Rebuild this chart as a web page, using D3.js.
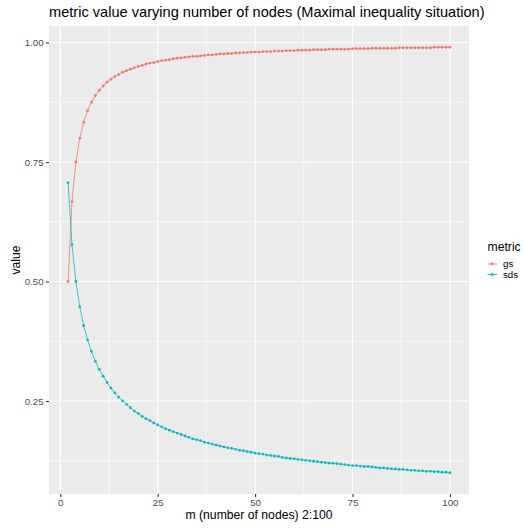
<!DOCTYPE html>
<html><head><meta charset="utf-8">
<script src="https://cdn.jsdelivr.net/npm/d3@7"></script>
<style>body{margin:0;background:#fff}svg{display:block;font-family:"Liberation Sans",Arial,sans-serif}</style>
</head><body><svg id="c" width="524" height="528"></svg>
<script>
const nodes = [2,3,4,5,6,7,8,9,10,11,12,13,14,15,16,17,18,19,20,21,22,23,24,25,26,27,28,29,30,31,32,33,34,35,36,37,38,39,40,41,42,43,44,45,46,47,48,49,50,51,52,53,54,55,56,57,58,59,60,61,62,63,64,65,66,67,68,69,70,71,72,73,74,75,76,77,78,79,80,81,82,83,84,85,86,87,88,89,90,91,92,93,94,95,96,97,98,99,100];
const gs = [0.500,0.667,0.750,0.800,0.833,0.857,0.875,0.889,0.900,0.909,0.917,0.923,0.929,0.933,0.938,0.941,0.944,0.947,0.950,0.952,0.955,0.957,0.958,0.960,0.962,0.963,0.964,0.966,0.967,0.968,0.969,0.970,0.971,0.971,0.972,0.973,0.974,0.974,0.975,0.976,0.976,0.977,0.977,0.978,0.978,0.979,0.979,0.980,0.980,0.980,0.981,0.981,0.981,0.982,0.982,0.982,0.983,0.983,0.983,0.984,0.984,0.984,0.984,0.985,0.985,0.985,0.985,0.986,0.986,0.986,0.986,0.986,0.986,0.987,0.987,0.987,0.987,0.987,0.988,0.988,0.988,0.988,0.988,0.988,0.988,0.989,0.989,0.989,0.989,0.989,0.989,0.989,0.989,0.989,0.990,0.990,0.990,0.990,0.990];
const sds = [0.707,0.577,0.500,0.447,0.408,0.378,0.354,0.333,0.316,0.302,0.289,0.277,0.267,0.258,0.250,0.243,0.236,0.229,0.224,0.218,0.213,0.209,0.204,0.200,0.196,0.192,0.189,0.186,0.183,0.180,0.177,0.174,0.171,0.169,0.167,0.164,0.162,0.160,0.158,0.156,0.154,0.152,0.151,0.149,0.147,0.146,0.144,0.143,0.141,0.140,0.139,0.137,0.136,0.135,0.134,0.132,0.131,0.130,0.129,0.128,0.127,0.126,0.125,0.124,0.123,0.122,0.121,0.120,0.120,0.119,0.118,0.117,0.116,0.115,0.115,0.114,0.113,0.113,0.112,0.111,0.110,0.110,0.109,0.108,0.108,0.107,0.107,0.106,0.105,0.105,0.104,0.104,0.103,0.103,0.102,0.102,0.101,0.101,0.100];
const seriesNames = ["gs","sds"];
const seriesColors = ["#F8766D","#00BFC4"];
const xTicks = [0,25,50,75,100];
const xMinor = [12.5,37.5,62.5,87.5];
const yTicks = [0.25,0.50,0.75,1.00];
const yMinor = [0.125,0.375,0.625,0.875];
const titleText = "metric value varying number of nodes (Maximal inequality situation)";
const xLabel = "m (number of nodes) 2:100";
const yLabel = "value";
const legendTitle = "metric";

const svg = d3.select("#c");
const L = 49, R = 469, T = 26, B = 494;
const allVals = gs.concat(sds);
const xmin = d3.min(nodes), xmax = d3.max(nodes);
const ymin = d3.min(allVals), ymax = d3.max(allVals);
const xe = (xmax - xmin) * 0.05, ye = (ymax - ymin) * 0.05;
const x = d3.scaleLinear().domain([xmin - xe, xmax + xe]).range([L, R]);
const y = d3.scaleLinear().domain([ymin - ye, ymax + ye]).range([B, T]);

svg.append("rect").attr("x", L).attr("y", T).attr("width", R - L).attr("height", B - T).attr("fill", "#EBEBEB");
const g = svg.append("g");
xMinor.forEach(v => g.append("line").attr("x1", x(v)).attr("x2", x(v)).attr("y1", T).attr("y2", B).attr("stroke", "#fff").attr("stroke-width", 0.6));
yMinor.forEach(v => g.append("line").attr("y1", y(v)).attr("y2", y(v)).attr("x1", L).attr("x2", R).attr("stroke", "#fff").attr("stroke-width", 0.6));
xTicks.forEach(v => g.append("line").attr("x1", x(v)).attr("x2", x(v)).attr("y1", T).attr("y2", B).attr("stroke", "#fff").attr("stroke-width", 1.2));
yTicks.forEach(v => g.append("line").attr("y1", y(v)).attr("y2", y(v)).attr("x1", L).attr("x2", R).attr("stroke", "#fff").attr("stroke-width", 1.2));

const series = [gs, sds];
const lineGen = d3.line().x((d, i) => x(nodes[i])).y(d => y(d));
series.forEach((s, k) => {
  svg.append("path").datum(s).attr("d", lineGen).attr("fill", "none").attr("stroke", seriesColors[k]).attr("stroke-width", 0.8);
});
series.forEach((s, k) => {
  svg.append("g").selectAll("circle").data(s).join("circle")
    .attr("cx", (d, i) => x(nodes[i])).attr("cy", d => y(d)).attr("r", 1.4).attr("fill", seriesColors[k]);
});

// axes
const xAxis = d3.axisBottom(x).tickValues(xTicks).tickSize(3).tickPadding(2.4).tickFormat(d3.format("d"));
const gx = svg.append("g").attr("transform", `translate(0,${B})`).call(xAxis);
const yAxis = d3.axisLeft(y).tickValues(yTicks).tickSize(3).tickPadding(2.4).tickFormat(d3.format(".2f"));
const gy = svg.append("g").attr("transform", `translate(${L},0)`).call(yAxis);
[gx, gy].forEach(a => {
  a.select(".domain").remove();
  a.selectAll(".tick line").attr("stroke", "#333333").attr("stroke-width", 1.1);
  a.selectAll(".tick text").attr("fill", "#4D4D4D").style("font-size", "9.7px").style("font-family", "Liberation Sans, Arial, sans-serif");
});

svg.append("text").attr("x", L).attr("y", 17).text(titleText).style("font-size", "14.6px").attr("fill", "#000");
svg.append("text").attr("x", (L + R) / 2).attr("y", 519).attr("text-anchor", "middle").text(xLabel).style("font-size", "12.2px");
svg.append("text").attr("transform", `translate(19.5,${(T + B) / 2}) rotate(-90)`).attr("text-anchor", "middle").text(yLabel).style("font-size", "12.2px");

// legend
const lg = svg.append("g").attr("transform", "translate(487.5,0)");
lg.append("text").attr("x", 0).attr("y", 250.5).text(legendTitle).style("font-size", "12.2px");
seriesNames.forEach((n, k) => {
  const cy = 264 + k * 10.5;
  lg.append("line").attr("x1", 0).attr("x2", 9.5).attr("y1", cy).attr("y2", cy).attr("stroke", seriesColors[k]).attr("stroke-width", 0.8);
  lg.append("circle").attr("cx", 4.75).attr("cy", cy).attr("r", 1.4).attr("fill", seriesColors[k]);
  lg.append("text").attr("x", 15.5).attr("y", cy + 3.4).text(n).style("font-size", "9.7px").attr("fill", "#000");
});
</script></body></html>
